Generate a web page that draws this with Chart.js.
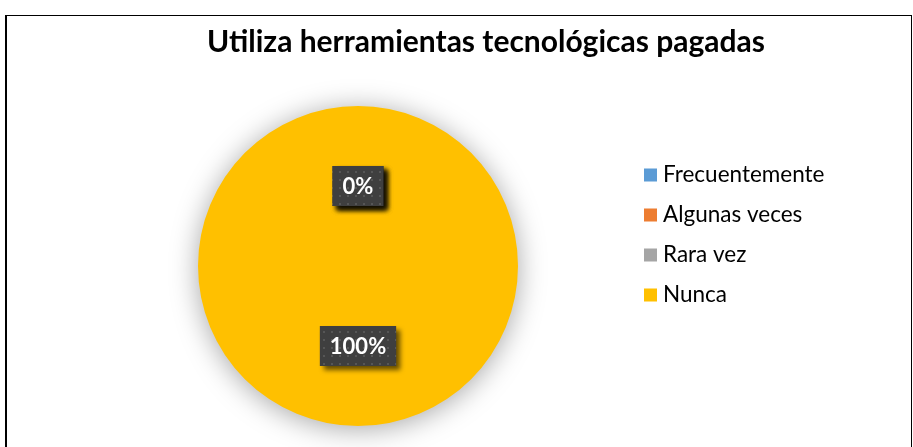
<!DOCTYPE html>
<html><head><meta charset="utf-8">
<script src="https://cdn.jsdelivr.net/npm/chart.js@4.4.1/dist/chart.umd.min.js"></script>
<style>
html,body{margin:0;padding:0;background:#fff;width:913px;height:447px;overflow:hidden;}
#frame{position:absolute;left:5px;top:15px;width:904px;height:440px;border-left:2px solid #000;border-top:1px solid #000;border-right:1px solid #000;}
#wrap{position:absolute;left:0;top:0;width:913px;height:447px;}
</style></head><body>
<div id="frame"></div>
<div id="wrap"><canvas id="c" width="913" height="447"></canvas></div>
<script>
const TITLE = 'Utiliza herramientas tecnológicas pagadas';
const categories = ['Frecuentemente', 'Algunas veces', 'Rara vez', 'Nunca'];
const values = [0, 0, 0, 100];
const percentLabels = ['0%', '0%', '0%', '100%'];
const colors = ['#5B9BD5', '#ED7D31', '#A5A5A5', '#FFC000'];

const FONT = 'Lato, "Open Sans", sans-serif';

function makePattern(ctx) {
  const p = document.createElement('canvas');
  p.width = 8; p.height = 8;
  const g = p.getContext('2d');
  g.fillStyle = '#3f3f3f'; g.fillRect(0, 0, 8, 8);
  g.fillStyle = '#565656'; g.fillRect(3, 3, 2, 2);
  return ctx.createPattern(p, 'repeat');
}

const shadowPlugin = {
  id: 'pieShadow',
  beforeDatasetsDraw(chart) {
    const ctx = chart.ctx;
    ctx.save();
    ctx.shadowColor = 'rgba(0,0,0,0.35)';
    ctx.shadowBlur = 28;
    ctx.shadowOffsetX = 0;
    ctx.shadowOffsetY = 3;
  },
  afterDatasetsDraw(chart) {
    chart.ctx.restore();
  }
};

const decorPlugin = {
  id: 'decor',
  afterDraw(chart) {
    const ctx = chart.ctx;
    // title
    ctx.save();
    ctx.fillStyle = '#000';
    ctx.font = 'bold 30px ' + FONT;
    ctx.textAlign = 'center';
    ctx.textBaseline = 'middle';
    ctx.fillText(TITLE, 486, 42);
    ctx.restore();

    // data labels
    const meta = chart.getDatasetMeta(0);
    const pat = makePattern(ctx);
    meta.data.forEach((arc, i) => {
      const pt = arc.getCenterPoint();
      const txt = percentLabels[i];
      ctx.save();
      ctx.font = 'bold 22px ' + FONT;
      const w = ctx.measureText(txt).width + 20;
      const h = 40;
      const x = pt.x - w / 2, y = pt.y - h / 2;
      ctx.shadowColor = 'rgba(0,0,0,0.6)';
      ctx.shadowBlur = 5;
      ctx.shadowOffsetX = 4;
      ctx.shadowOffsetY = 4;
      ctx.fillStyle = pat;
      ctx.fillRect(x, y, w, h);
      ctx.shadowColor = 'transparent';
      ctx.fillStyle = '#fff';
      ctx.textAlign = 'center';
      ctx.textBaseline = 'middle';
      ctx.fillText(txt, pt.x, pt.y + 1);
      ctx.restore();
    });

    // legend
    ctx.save();
    ctx.font = '22.5px ' + FONT;
    ctx.textBaseline = 'middle';
    categories.forEach((c, i) => {
      const cy = 175 + i * 40;
      ctx.fillStyle = colors[i];
      ctx.fillRect(644, cy - 6.5, 13, 13);
      ctx.fillStyle = '#000';
      ctx.fillText(c, 663, cy);
    });
    ctx.restore();
  }
};

new Chart(document.getElementById('c'), {
  type: 'pie',
  data: {
    labels: categories,
    datasets: [{ data: values, backgroundColor: colors, borderWidth: 0 }]
  },
  options: {
    responsive: false,
    animation: false,
    layout: { padding: { top: 106, bottom: 21, left: 198, right: 395 } },
    plugins: { legend: { display: false }, tooltip: { enabled: false }, title: { display: false } }
  },
  plugins: [shadowPlugin, decorPlugin]
});
</script>
</body></html>
